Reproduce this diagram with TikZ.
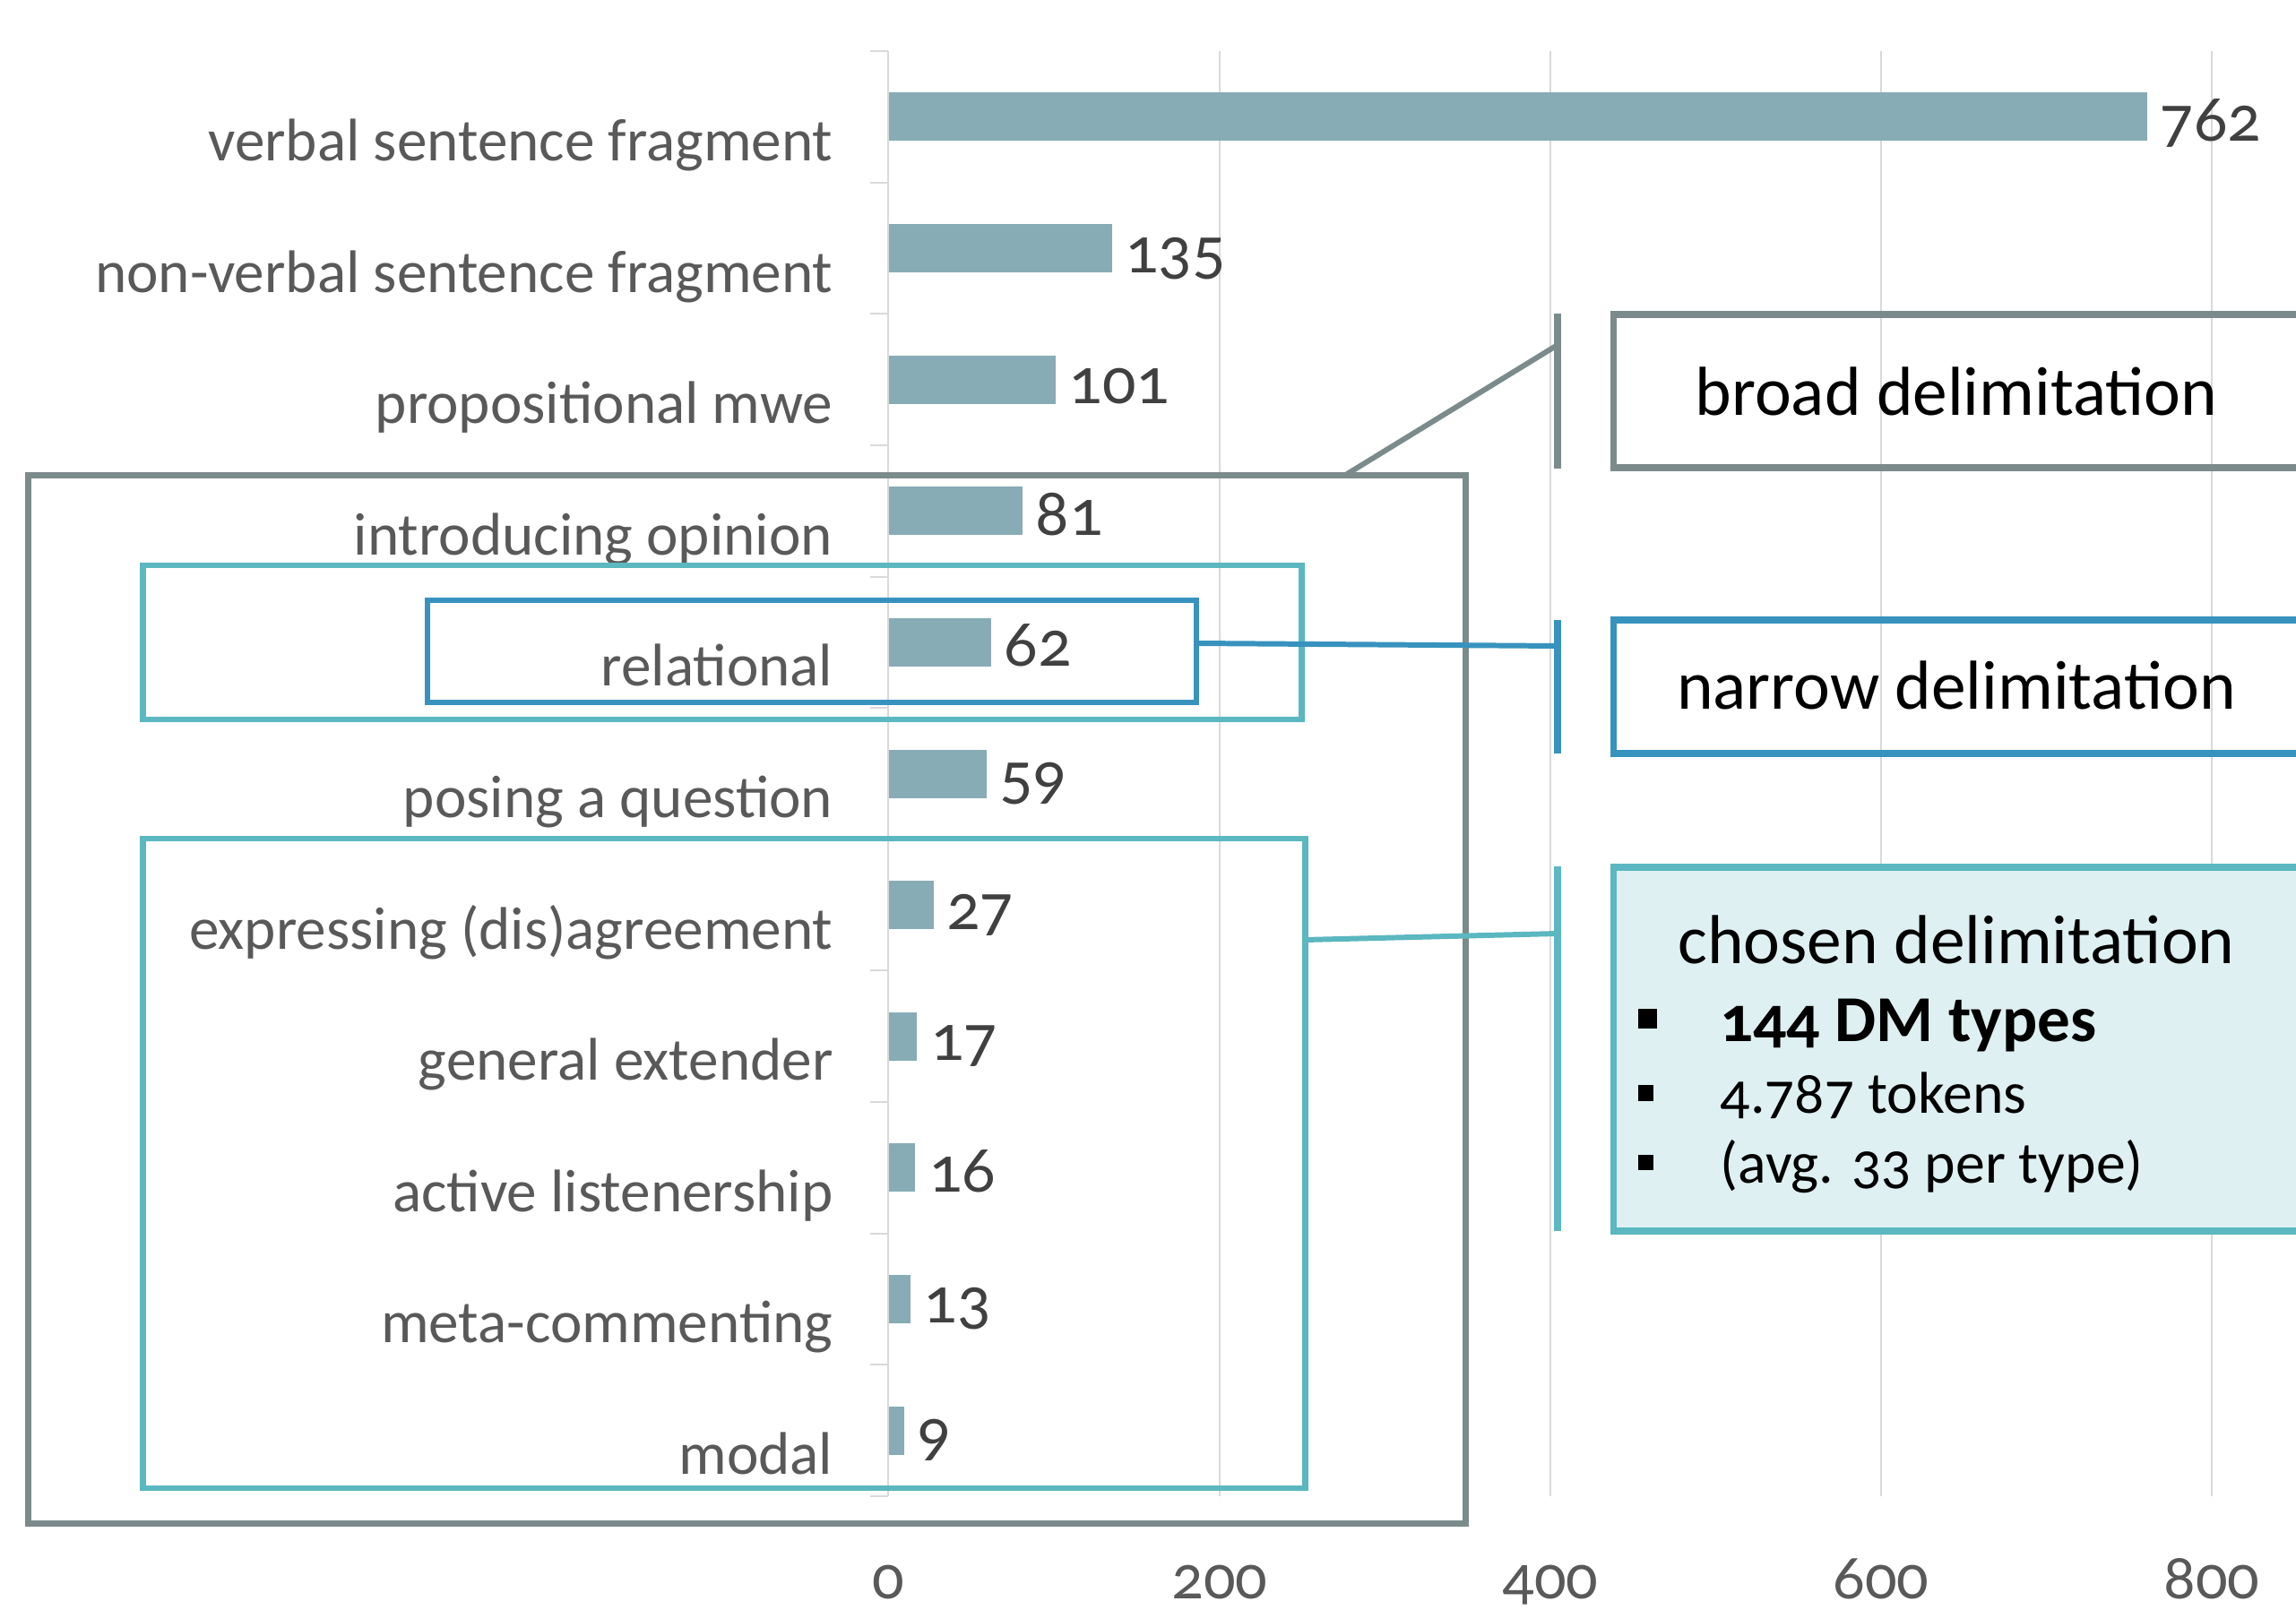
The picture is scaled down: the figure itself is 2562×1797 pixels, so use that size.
\documentclass[tikz,border=0pt]{standalone}
\usepackage{fontspec}
\setmainfont{Carlito}[Numbers=OldStyle]
\definecolor{barcol}{HTML}{87ACB5}
\definecolor{graybox}{HTML}{7B8B8C}
\definecolor{tealbox}{HTML}{5BB7C0}
\definecolor{bluebox}{HTML}{3793BE}
\definecolor{chosenfill}{HTML}{DFF0F2}
\definecolor{gridc}{HTML}{D9D9D9}
\definecolor{lblgray}{HTML}{595959}
\definecolor{valgray}{HTML}{404040}
\begin{document}
\begin{tikzpicture}[x=0.01cm,y=-0.01cm,
  catlbl/.style={anchor=base east,text=lblgray,font=\fontsize{19.1}{22}\selectfont,inner sep=0pt},
  vallbl/.style={anchor=base west,text=valgray,font=\fontsize{21}{24}\selectfont,inner sep=0pt},
  axlbl/.style={anchor=base,text=lblgray,font=\fontsize{20}{24}\selectfont,inner sep=0pt},
  gridln/.style={draw=gridc,line width=0.6pt},
  selbox/.style={draw,line width=2pt,inner sep=0pt,fill=none},
  rbox/.style={draw,line width=2.1pt,inner sep=0pt,minimum width=7.67cm},
  bigtxt/.style={anchor=base,text=black,font=\fontsize{22}{26}\selectfont,inner sep=0pt},
  listtxt/.style={anchor=base west,text=black,font=\fontsize{18.7}{22}\selectfont,inner sep=0pt},
  bullet/.style={fill=black,draw=none,inner sep=0pt},
  bracket/.style={line width=2.2pt},
  link/.style={line width=1.7pt}]
\useasboundingbox (0,0) rectangle (2562,1797);
\fill[white] (0,0) rectangle (2562,1797);
% grid
\foreach \gx in {1361,1730,2099,2468}{
  \draw[gridln] (\gx,57) -- (\gx,1670);
}
\draw[gridln] (991,57) -- (991,1670);
\foreach \k in {0,...,11}{
  \draw[gridln] (971,57.2+146.6*\k) -- (991,57.2+146.6*\k);
}
% axis labels
\node[axlbl] (ax0) at (991,1784) {0};
\node[axlbl] (ax200) at (1361,1784) {200};
\node[axlbl] (ax400) at (1730,1784) {400};
\node[axlbl] (ax600) at (2099,1784) {600};
\node[axlbl] (ax800) at (2468,1784) {800};
% bars
\foreach \i/\t/\v in {0/verbal sentence fragment/762, 1/non-verbal sentence fragment/135, 2/propositional mwe/101, 3/introducing opinion/81, 4/relational/62, 5/posing a question/59, 6/expressing (dis)agreement/27, 7/general extender/17, 8/active listenership/16, 9/meta-commenting/13, 10/modal/9}{
  \pgfmathsetmacro\cy{57.2+146.6*(\i+0.5)}
  \pgfmathsetmacro\ex{992+\v*1.8425}
  \fill[barcol] (992,\cy-27) rectangle (\ex,\cy+27);
  \node[catlbl] (cat\i) at (930,\cy+49) {\t};
  \node[vallbl] (val\i) at (\ex+14,\cy+27) {\v};
}
% selection boxes on the chart
\node[selbox,draw=graybox,minimum width=16.03cm,minimum height=11.69cm] (broadsel) at (833.5,1115.5) {};
\node[selbox,draw=tealbox,line width=1.8pt,minimum width=12.92cm,minimum height=1.72cm] (relsel) at (806,717) {};
\node[selbox,draw=bluebox,line width=1.8pt,minimum width=8.58cm,minimum height=1.14cm] (narrowsel) at (906,727) {};
\node[selbox,draw=tealbox,line width=1.8pt,minimum width=12.96cm,minimum height=7.25cm] (chosensel) at (808,1298.5) {};
% right boxes
\node[rbox,draw=graybox,minimum height=1.71cm] (broadbox) at (2184.5,436.5) {};
\node[bigtxt] (broadtxt) at (2183,464) {broad delimitation};
\node[rbox,draw=bluebox,minimum height=1.49cm] (narrowbox) at (2184.5,766.5) {};
\node[bigtxt] (narrowtxt) at (2183,791) {narrow delimitation};
\node[rbox,draw=tealbox,fill=chosenfill,minimum height=4.06cm] (chosenbox) at (2184.5,1171) {};
\node[bigtxt] (chosentxt) at (2183,1075) {chosen delimitation};
\node[bullet,minimum size=0.21cm] (b1) at (1838,1137) {};
\node[bullet,minimum size=0.17cm] (b2) at (1836,1220) {};
\node[bullet,minimum size=0.17cm] (b3) at (1836,1297) {};
\node[listtxt,font=\fontsize{20.8}{24}\selectfont\bfseries] (l1) at (1919,1162) {144 DM types};
\node[listtxt] (l2) at (1919,1242) {4.787 tokens};
\node[listtxt] (l3) at (1919,1320) {(avg. 33 per type)};
% brackets
\coordinate (gtop) at (1738,350);
\coordinate (gbot) at (1738,523);
\coordinate (gmid) at (1738,385);
\coordinate (btop) at (1738,692);
\coordinate (bbot) at (1738,841);
\coordinate (bmid) at (1738,721);
\coordinate (ttop) at (1738,967);
\coordinate (tbot) at (1738,1374);
\coordinate (tmid) at (1738,1042);
\coordinate (gstart) at (1500,531);
\coordinate (bstart) at (1335,718);
\coordinate (tstart) at (1456,1049);
\draw[bracket,graybox] (gtop) -- (gbot);
\draw[bracket,bluebox] (btop) -- (bbot);
\draw[bracket,tealbox] (ttop) -- (tbot);
\draw[link,graybox] (gstart) -- (gmid);
\draw[link,bluebox] (bstart) -- (bmid);
\draw[link,tealbox] (tstart) -- (tmid);
\end{tikzpicture}
\end{document}
